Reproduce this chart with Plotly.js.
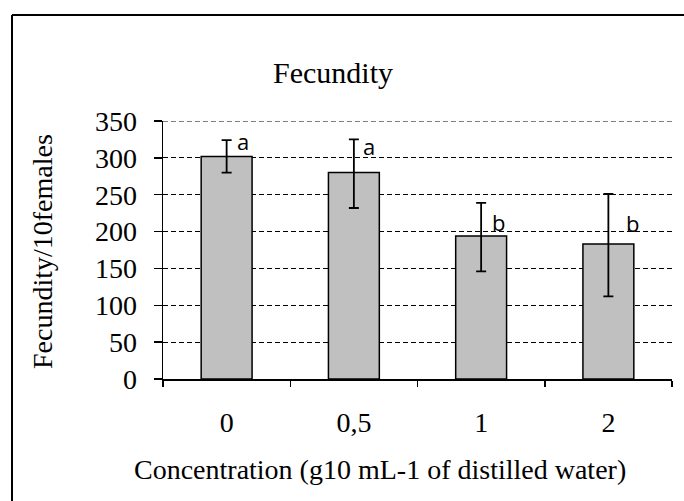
<!DOCTYPE html>
<html>
<head>
<meta charset="utf-8">
<script src="https://cdn.plot.ly/plotly-3.0.1.min.js"></script>
<style>html,body{margin:0;padding:0;background:#fff;}#chart{width:684px;height:501px;}</style>
</head>
<body>
<div id="chart"></div>
<script>
// Data
const categories = ["0", "0,5", "1", "2"];
const fecundity = [302, 280, 194, 183];
const errorUp = [22, 45, 45, 68];
const errorDown = [22, 48, 48, 71];
const letters = ["a", "a", "b", "b"];
const letterX = [0.13, 1.12, 2.14, 3.19];
const letterY = [323, 316, 213, 212];
const yTicks = [0, 50, 100, 150, 200, 250, 300, 350];

const W = 684, H = 501;
const L = 163, R = 12, T = 121, B = 122;
const pw = W - L - R, ph = H - T - B;
const px2x = p => (p - L) / pw;
const px2y = p => (H - B - p) / ph;

const serif = "'Liberation Serif', 'Times New Roman', serif";
const yMax = yTicks[yTicks.length - 1];

const trace = {
  type: "bar",
  x: categories,
  y: fecundity,
  marker: {color: "#C0C0C0", line: {color: "#000000", width: 1.5}},
  error_y: {type: "data", symmetric: false, array: errorUp, arrayminus: errorDown,
            color: "#000000", thickness: 1.8, width: 5},
  hoverinfo: "skip"
};

const annotations = letters.map((t, i) => ({
  text: t, x: letterX[i], y: letterY[i], xref: "x", yref: "y",
  showarrow: false, xanchor: "center", yanchor: "middle",
  font: {family: "'Open Sans', 'Liberation Sans', sans-serif", size: 22, color: "#000"}
}));
annotations.push({
  text: "Fecundity/10females", textangle: -90, xref: "paper", yref: "paper",
  x: px2x(42), y: px2y(252), showarrow: false, xanchor: "center", yanchor: "middle",
  font: {family: serif, size: 28, color: "#000"}
});
annotations.push({
  text: "Concentration (g10 mL-1 of distilled water)", xref: "paper", yref: "paper",
  x: px2x(380), y: px2y(469), showarrow: false, xanchor: "center", yanchor: "middle",
  font: {family: serif, size: 28, color: "#000"}
});
annotations.push({
  text: "Fecundity", xref: "paper", yref: "paper",
  x: px2x(333), y: px2y(72), showarrow: false, xanchor: "center", yanchor: "middle",
  font: {family: serif, size: 30, color: "#000"}
});

const layout = {
  width: W, height: H,
  margin: {l: L, r: R, t: T, b: B, pad: 0},
  paper_bgcolor: "#ffffff", plot_bgcolor: "#ffffff",
  showlegend: false,
  bargap: 0.6,
  xaxis: {
    type: "category", showline: true, linecolor: "#000", linewidth: 1.5,
    ticks: "outside", tickson: "boundaries", ticklen: 6, tickwidth: 1.5, tickcolor: "#000",
    showgrid: false, zeroline: false, ticklabelstandoff: 18,
    tickfont: {family: serif, size: 28, color: "#000"}
  },
  yaxis: {
    range: [0, yMax], tickvals: yTicks, showline: true, linecolor: "#000", linewidth: 1.5,
    ticks: "outside", ticklen: 8, tickwidth: 1.5, tickcolor: "#000",
    showgrid: true, gridcolor: "#000", gridwidth: 1, griddash: "5px,3px",
    zeroline: false, ticklabelstandoff: 11,
    tickfont: {family: serif, size: 28, color: "#000"}
  },
  annotations: annotations,
  shapes: [
    {type: "line", xref: "paper", yref: "y", x0: 0, x1: 1, y0: yMax, y1: yMax, layer: "below",
     line: {color: "#000", width: 1, dash: "5px,3px"}},
    {type: "line", xref: "paper", yref: "paper", x0: px2x(12), x1: px2x(700), y0: px2y(15), y1: px2y(15),
     line: {color: "#000", width: 2}},
    {type: "line", xref: "paper", yref: "paper", x0: px2x(12), x1: px2x(12), y0: px2y(15), y1: px2y(520),
     line: {color: "#000", width: 2}}
  ]
};

Plotly.newPlot("chart", [trace], layout, {displayModeBar: false, staticPlot: true});
</script>
</body>
</html>
